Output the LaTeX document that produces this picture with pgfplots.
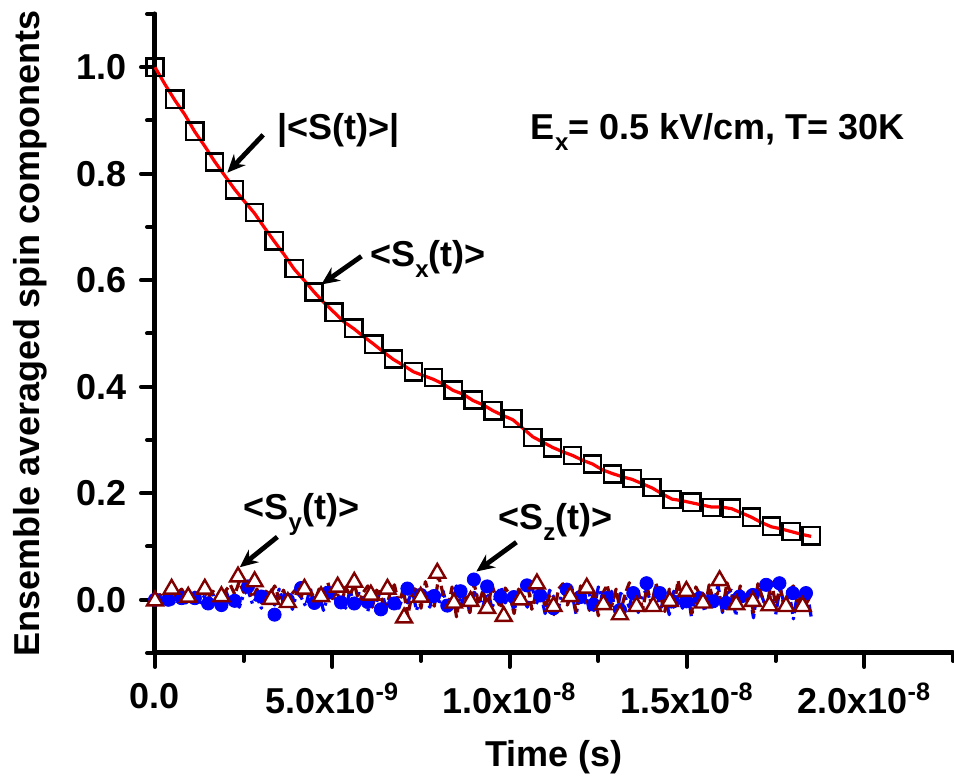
\documentclass[border=0pt]{standalone}
\usepackage{fontspec}
\setmainfont{Liberation Sans}
\usepackage{pgfplots}
\pgfplotsset{compat=1.18}
\usetikzlibrary{arrows.meta}
\definecolor{dred}{RGB}{128,0,0}
\newcommand{\sub}[1]{\raisebox{-5.5pt}{\fontsize{12}{12}\selectfont\bfseries #1}}
\begin{document}
\fontsize{18}{21}\selectfont\bfseries
\begin{tikzpicture}
\useasboundingbox (-77.5pt,-63.5pt) rectangle (399.5pt,326.5pt);
\begin{axis}[
  scale only axis, width=399pt, height=319.5pt,
  xmin=0, xmax=22.5, ymin=-0.1, ymax=1.1,
  axis x line*=bottom, axis y line*=left,
  axis line style={line width=2.5pt, line cap=round, -},
  tick style={line width=2pt, black, line cap=round},
  tick align=outside,
  major tick length=7pt, minor tick length=4pt,
  xtick={0,5,10,15,20},
  xticklabels={0.0, 5.0x10\textsuperscript{-9}, 1.0x10\textsuperscript{-8}, 1.5x10\textsuperscript{-8}, 2.0x10\textsuperscript{-8}},
  minor xtick={2.5,7.5,12.5,17.5,22.5},
  ytick={0,0.2,0.4,0.6,0.8,1.0},
  yticklabels={0.0,0.2,0.4,0.6,0.8,1.0},
  minor ytick={-0.1,0.1,0.3,0.5,0.7,0.9,1.1},
  ticklabel style={font=\fontsize{18}{21}\selectfont\bfseries},
  xticklabel style={yshift=-2pt},
  yticklabel style={xshift=-1pt},
  xlabel={Time (s)},
  ylabel={Ensemble averaged spin components},
  label style={font=\fontsize{18}{21}\selectfont\bfseries},
  xlabel style={at={(axis description cs:0.5,0)}, anchor=base, yshift=-57pt},
  ylabel style={at={(axis description cs:-0.156,0.5)}, anchor=center},
  clip=false,
]
% <S_z> blue dash-dot line (time step 0.125 ns)
\addplot[blue, line width=1.6pt, line join=round, dash pattern=on 6pt off 2pt on 1.5pt off 2pt] table[row sep=\\, x expr=\coordindex*0.125, y index=0] {
v\\
0.000\\ 0.006\\ -0.004\\ 0.010\\ -0.008\\ 0.004\\ 0.012\\ -0.006\\ 0.002\\ 0.014\\ -0.010\\ 0.006\\ -0.002\\ 0.012\\ -0.012\\ 0.008\\
0.016\\ -0.006\\ 0.004\\ -0.014\\ 0.010\\ 0.018\\ -0.008\\ 0.006\\ -0.016\\ 0.012\\ 0.002\\ -0.010\\ 0.020\\ -0.004\\ 0.008\\ -0.018\\
0.014\\ 0.004\\ -0.012\\ 0.022\\ -0.006\\ 0.010\\ -0.020\\ 0.006\\ 0.016\\ -0.008\\ 0.002\\ -0.016\\ 0.018\\ -0.010\\ 0.012\\ 0.004\\
-0.022\\ 0.014\\ -0.004\\ 0.020\\ -0.012\\ 0.006\\ 0.024\\ -0.016\\ 0.008\\ -0.006\\ 0.018\\ -0.020\\ 0.010\\ 0.002\\ -0.014\\ 0.022\\
-0.008\\ 0.016\\ -0.018\\ 0.006\\ 0.026\\ -0.010\\ 0.012\\ -0.024\\ 0.014\\ 0.004\\ -0.012\\ 0.020\\ -0.016\\ 0.008\\ 0.024\\ -0.006\\
0.010\\ -0.022\\ 0.016\\ 0.002\\ -0.014\\ 0.026\\ -0.008\\ 0.012\\ -0.026\\ 0.018\\ 0.004\\ -0.016\\ 0.022\\ -0.010\\ 0.014\\ -0.028\\
0.020\\ -0.006\\ 0.010\\ -0.020\\ 0.024\\ 0.002\\ -0.018\\ 0.016\\ -0.030\\ 0.012\\ 0.006\\ -0.014\\ 0.022\\ -0.024\\ 0.010\\ 0.018\\
-0.012\\ 0.026\\ -0.020\\ 0.008\\ -0.028\\ 0.016\\ 0.004\\ -0.016\\ 0.024\\ -0.032\\ 0.014\\ 0.008\\ -0.022\\ 0.020\\ -0.010\\ 0.028\\
-0.024\\ 0.012\\ 0.018\\ -0.030\\ 0.022\\ -0.008\\ 0.016\\ -0.034\\ 0.026\\ 0.004\\ -0.020\\ 0.014\\ -0.028\\ 0.024\\ -0.012\\ 0.018\\
-0.036\\ 0.016\\ -0.010\\ 0.020\\ -0.032\\
};
% <S_z> blue circles
\addplot[only marks, mark=*, mark size=3.3pt, color=blue] table {
t v
0.0000 0.000
0.3746 0.000
0.7492 0.003
1.1238 0.003
1.4984 -0.007
1.8730 -0.010
2.2476 -0.002
2.6222 0.025
2.9968 0.006
3.3714 -0.028
3.7460 0.000
4.1206 0.022
4.4952 -0.006
4.8698 0.013
5.2444 -0.005
5.6190 -0.007
5.9936 -0.004
6.3682 -0.018
6.7428 -0.007
7.1174 0.021
7.4920 0.009
7.8666 0.007
8.2412 -0.011
8.6158 0.016
8.9904 0.038
9.3650 0.025
9.7396 0.006
10.1142 0.005
10.4888 0.027
10.8634 0.008
11.2380 -0.016
11.6126 0.019
11.9872 0.005
12.3618 -0.009
12.7364 0.003
13.1110 -0.019
13.4856 0.0125
13.8602 0.031
14.2348 0.0125
14.6094 -0.003
14.9840 -0.003
15.3586 0.003
15.7332 -0.003
16.1078 -0.006
16.4824 0.006
16.8570 0.009
17.2316 0.028
17.6062 0.031
17.9808 0.0125
18.3554 0.0125
};
% <S_y> dark red dashed line (time step 0.125 ns)
\addplot[dred, line width=1.6pt, line join=round, dash pattern=on 5pt off 2pt] table[row sep=\\, x expr=\coordindex*0.125, y index=0] {
v\\
0.000\\ 0.010\\ 0.004\\ 0.016\\ -0.002\\ 0.012\\ 0.020\\ 0.006\\ -0.004\\ 0.014\\ 0.008\\ 0.022\\ 0.002\\ 0.016\\ 0.010\\ -0.004\\
0.018\\ 0.028\\ 0.010\\ 0.034\\ 0.014\\ 0.024\\ 0.004\\ 0.020\\ -0.006\\ 0.016\\ 0.010\\ 0.026\\ 0.002\\ 0.018\\ -0.008\\ 0.012\\
0.022\\ 0.006\\ 0.030\\ 0.014\\ -0.004\\ 0.020\\ 0.010\\ 0.032\\ 0.002\\ 0.016\\ -0.010\\ 0.024\\ 0.008\\ 0.030\\ -0.006\\ 0.014\\
0.026\\ -0.014\\ 0.018\\ 0.006\\ -0.024\\ 0.012\\ 0.028\\ -0.008\\ 0.020\\ -0.030\\ 0.010\\ 0.024\\ -0.016\\ 0.034\\ 0.004\\ -0.012\\
0.044\\ 0.010\\ -0.020\\ 0.024\\ -0.032\\ 0.016\\ 0.006\\ -0.024\\ 0.030\\ -0.008\\ 0.018\\ -0.020\\ 0.028\\ 0.002\\ -0.016\\ 0.022\\
0.010\\ -0.026\\ 0.020\\ -0.006\\ 0.032\\ -0.018\\ 0.012\\ 0.024\\ -0.014\\ 0.008\\ -0.028\\ 0.020\\ 0.030\\ -0.010\\ 0.016\\ -0.022\\
0.026\\ 0.004\\ -0.020\\ 0.018\\ -0.030\\ 0.012\\ 0.028\\ -0.012\\ 0.020\\ -0.024\\ 0.010\\ 0.032\\ -0.008\\ 0.016\\ -0.018\\ 0.024\\
-0.010\\ 0.030\\ 0.006\\ -0.022\\ 0.020\\ -0.014\\ 0.036\\ -0.006\\ 0.018\\ -0.026\\ 0.024\\ 0.008\\ -0.018\\ 0.028\\ -0.004\\ 0.014\\
-0.020\\ 0.032\\ 0.010\\ -0.016\\ 0.026\\ -0.006\\ 0.020\\ -0.024\\ 0.030\\ 0.004\\ -0.014\\ 0.034\\ -0.008\\ 0.022\\ -0.018\\ 0.016\\
0.026\\ -0.012\\ 0.018\\ -0.006\\ 0.010\\
};
% <S_y> triangles
\addplot[only marks, mark=triangle*, mark size=4.6pt, color=dred, mark options={fill=white, line width=1.2pt}] table {
t v
0.0000 -0.002
0.4682 0.020
0.9364 0.005
1.4046 0.020
1.8728 0.006
2.3410 0.043
2.8092 0.034
3.2774 0.001
3.7456 -0.005
4.2138 0.020
4.6820 0.006
5.1502 0.024
5.6184 0.033
6.0866 0.009
6.5548 0.020
7.0230 -0.034
7.4912 0.005
7.9594 0.050
8.4276 -0.006
8.8958 -0.003
9.3640 -0.016
9.8322 -0.031
10.3004 0.000
10.7686 0.030
11.2368 -0.0125
11.7050 0.006
12.1732 0.022
12.6414 -0.009
13.1096 -0.028
13.5778 -0.0125
14.0460 -0.0125
14.5142 -0.003
14.9824 0.016
15.4506 -0.006
15.9188 0.036
16.3870 -0.009
16.8552 -0.003
17.3234 -0.011
17.7916 -0.0125
18.2598 -0.0125
};
% |<S(t)>| squares
\addplot[only marks, mark=square, mark size=4.3pt, color=black, mark options={line width=1.2pt}] table {
t v
0.0000 1.000
0.5606 0.940
1.1212 0.880
1.6818 0.822
2.2424 0.770
2.8030 0.727
3.3636 0.674
3.9242 0.622
4.4848 0.578
5.0455 0.540
5.6061 0.510
6.1667 0.480
6.7273 0.452
7.2879 0.428
7.8485 0.417
8.4091 0.394
8.9697 0.375
9.5303 0.355
10.0909 0.340
10.6515 0.305
11.2121 0.285
11.7727 0.271
12.3333 0.255
12.8939 0.236
13.4545 0.228
14.0152 0.211
14.5758 0.188
15.1364 0.183
15.6970 0.173
16.2576 0.172
16.8182 0.155
17.3788 0.138
17.9394 0.128
18.5000 0.120
};
% <S_x> red line
\addplot[red, line width=1.6pt, line join=round] table {
t v
0.0000 1.000
0.2803 0.968
0.5606 0.938
0.8409 0.911
1.1212 0.879
1.4015 0.852
1.6818 0.823
1.9621 0.797
2.2424 0.771
2.5227 0.748
2.8030 0.726
3.0833 0.699
3.3636 0.673
3.6439 0.648
3.9242 0.621
4.2045 0.600
4.4848 0.578
4.7652 0.558
5.0455 0.540
5.3258 0.522
5.6061 0.509
5.8864 0.494
6.1667 0.480
6.4470 0.465
6.7273 0.451
7.0076 0.440
7.2879 0.428
7.5682 0.421
7.8485 0.414
8.1288 0.405
8.4091 0.393
8.6894 0.386
8.9697 0.374
9.2500 0.366
9.5303 0.355
9.8106 0.346
10.0909 0.338
10.3712 0.322
10.6515 0.306
10.9318 0.296
11.2121 0.286
11.4924 0.278
11.7727 0.271
12.0530 0.262
12.3333 0.255
12.6136 0.244
12.8939 0.237
13.1742 0.231
13.4545 0.226
13.7348 0.218
14.0152 0.210
14.2955 0.199
14.5758 0.189
14.8561 0.186
15.1364 0.182
15.4167 0.178
15.6970 0.174
15.9773 0.174
16.2576 0.171
16.5379 0.163
16.8182 0.155
17.0985 0.145
17.3788 0.137
17.6591 0.133
17.9394 0.128
18.2197 0.123
18.5000 0.119
};
% annotations
\tikzset{ann/.style={line width=2.4pt, -{Stealth[length=9pt, width=8pt]}}}
\draw[ann] (axis cs:3.05,0.873) -- (axis cs:2.04,0.802);
\draw[ann] (axis cs:5.82,0.645) -- (axis cs:4.69,0.592);
\draw[ann] (axis cs:3.45,0.118) -- (axis cs:2.39,0.061);
\draw[ann] (axis cs:10.19,0.108) -- (axis cs:9.06,0.053);
\node[anchor=base west, inner sep=0pt] at (axis cs:3.43,0.865) {|<S(t)>|};
\node[anchor=base west, inner sep=0pt] at (axis cs:6.06,0.626) {<S\sub{x}(t)>};
\node[anchor=base west, inner sep=0pt] at (axis cs:2.49,0.150) {<S\sub{y}(t)>};
\node[anchor=base west, inner sep=0pt] at (axis cs:9.67,0.131) {<S\sub{z}(t)>};
\node[anchor=base west, inner sep=0pt] at (axis cs:10.59,0.864) {E\sub{x}= 0.5 kV/cm, T= 30K};
\end{axis}
\end{tikzpicture}
\end{document}
